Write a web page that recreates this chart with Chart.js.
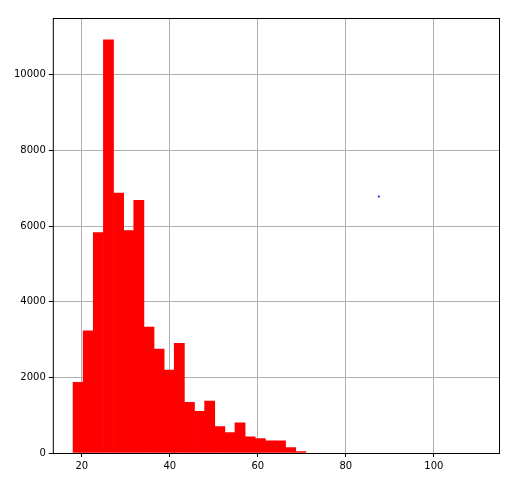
<!DOCTYPE html>
<html><head><meta charset="utf-8">
<script src="https://cdn.jsdelivr.net/npm/chart.js@4/dist/chart.umd.min.js"></script>
<style>html,body{margin:0;padding:0;background:#fff}#w{width:509px;height:482px}</style>
</head><body><div id="w"><canvas id="c"></canvas></div>
<script>
const binStart = 18, binWidth = 2.3;
const counts = [1870,3230,5830,10920,6870,5880,6680,3330,2750,2190,2900,1340,1100,1370,700,540,800,430,380,320,320,140,40,0,0,0,0,0,0,0,0,0,0,0,0,0,0,0,0,0];
const outlierX = [87.5], outlierY = [6780];
const xTicks = [20,40,60,80,100];
const yTicks = [0,2000,4000,6000,8000,10000];
const barData = counts.map((c,i)=>({x: binStart + binWidth*(i+0.5), y: c})).filter(d=>d.y>0);
const frame = {id:'frame', afterDraw(ch){const a=ch.chartArea,g=ch.ctx;g.save();g.strokeStyle='#000';g.lineWidth=1;g.strokeRect(a.left+0.5,a.top+0.5,a.right-a.left,a.bottom-a.top);g.restore();}};
new Chart(document.getElementById('c'),{
  data:{datasets:[
    {type:'bar',data:barData,backgroundColor:'#ff0000',barPercentage:1,categoryPercentage:1,grouped:false,borderWidth:0,order:1},
    {type:'scatter',data:outlierX.map((x,i)=>({x,y:outlierY[i]})),pointRadius:1,backgroundColor:'#0000ff',borderWidth:0,order:0}
  ]},
  options:{responsive:true,maintainAspectRatio:false,animation:false,
    layout:{padding:{left:11,right:10,top:18,bottom:7}},
    plugins:{legend:{display:false},tooltip:{enabled:false}},
    scales:{
      x:{type:'linear',offset:false,min:13.4,max:114.8,afterBuildTicks(s){s.ticks=xTicks.map(v=>({value:v}));},
        grid:{offset:false,color:'#b0b0b0',drawTicks:true,tickLength:4,tickColor:'#000'},border:{display:false},
        ticks:{color:'#000',font:{family:'DejaVu Sans',size:10},maxRotation:0}},
      y:{min:0,max:11500,afterBuildTicks(s){s.ticks=yTicks.map(v=>({value:v}));},
        grid:{color:'#b0b0b0',tickLength:4,tickColor:'#000'},border:{display:false},
        ticks:{color:'#000',font:{family:'DejaVu Sans',size:10},callback:v=>String(v)}}
    }},
  plugins:[frame]
});
</script></body></html>
